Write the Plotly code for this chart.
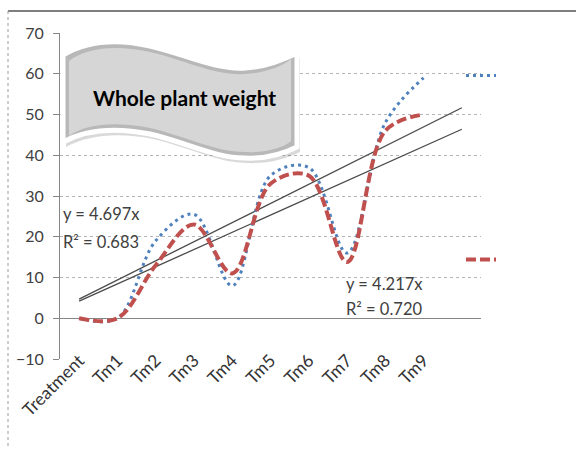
import plotly.graph_objects as go

# ---------------- data ----------------
categories = ["Treatment", "Tm1", "Tm2", "Tm3", "Tm4", "Tm5", "Tm6", "Tm7", "Tm8", "Tm9", ""]
series_blue = [0, 0, 19, 25.5, 8, 35, 37, 16, 48, 59]
series_red = [0, 0, 13, 23, 11, 33, 35, 13.8, 46, 50]
trend_slopes = [4.697, 4.217]          # trendlines with intercept set to 0
trend_r2 = [0.683, 0.720]
title_text = "Whole plant weight"
y_ticks = [-10, 0, 10, 20, 30, 40, 50, 60, 70]

# ---------------- layout geometry ----------------
W, H = 576, 449
ML, MR, MT, MB = 60, 95, 33, 90
PW, PH = W - ML - MR, H - MT - MB


def px2paper(px, py):
    return (px - ML) / PW, 1 - (py - MT) / PH


x_cat = list(range(1, len(categories) + 1))
x_data = x_cat[: len(series_blue)]
x_trend = [x_cat[0], x_cat[-1]]

FONT = "Lato, 'Open Sans', sans-serif"
TXT = "#404040"
AX = "#868686"

fig = go.Figure()

# trendlines
for s in trend_slopes:
    fig.add_trace(go.Scatter(
        x=x_trend, y=[s * v for v in x_trend], mode="lines",
        line=dict(color="#4a4a4a", width=1.3), showlegend=False, hoverinfo="skip"))

fig.add_trace(go.Scatter(
    x=x_data, y=series_blue, mode="lines", name="",
    line=dict(color="#4f81bd", width=3, dash="3px,4px", shape="spline", smoothing=1),
    legend="legend"))
fig.add_trace(go.Scatter(
    x=x_data, y=series_red, mode="lines", name="",
    line=dict(color="#c0504d", width=4, dash="10px,4px", shape="spline", smoothing=1),
    legend="legend2"))

# trendline equations
eq_pos = [((0.53, 25.5), (0.53, 18.6)), ((7.92, 8.3), (7.92, 2.2))]
for s, r2, (p1, p2) in zip(trend_slopes, trend_r2, eq_pos):
    fig.add_annotation(x=p1[0], y=p1[1], text=f"y = {s:.3f}x", showarrow=False,
                       xanchor="left", font=dict(family=FONT, size=16.5, color=TXT))
    fig.add_annotation(x=p2[0], y=p2[1], text=f"R² = {r2:.3f}", showarrow=False,
                       xanchor="left", font=dict(family=FONT, size=16.5, color=TXT))


# ---------------- banner (wavy) ----------------
def banner_path(dx=0.0, dy=0.0, inset=0.0):
    i = inset
    L, R = 63 + i, 297 - i
    top = [(L, 55 + i),
           (85, 42 + i), (115, 38 + i), (150, 46 + i),
           (185, 54 + i), (215, 70 + i), (245, 68 + i),
           (265, 67 + i), (283, 60 + i), (R, 53 + i)]
    bot = [(R, 147 - i),
           (283, 154 - i), (265, 159 - i), (245, 158 - i),
           (215, 158 - i), (185, 142 - i), (150, 134 - i),
           (115, 127 - i), (85, 130 - i), (L, 142 - i)]

    def P(p):
        x, y = px2paper(p[0] + dx, p[1] + dy)
        return f"{x:.5f},{y:.5f}"

    d = "M" + P(top[0])
    for k in range(1, 10, 3):
        d += " C" + P(top[k]) + " " + P(top[k + 1]) + " " + P(top[k + 2])
    d += " L" + P(bot[0])
    for k in range(1, 10, 3):
        d += " C" + P(bot[k]) + " " + P(bot[k + 1]) + " " + P(bot[k + 2])
    return d + " Z"


fig.add_shape(type="path", xref="paper", yref="paper", path=banner_path(3, 5),
              fillcolor="rgba(0,0,0,0.15)", line=dict(width=0))
fig.add_shape(type="path", xref="paper", yref="paper", path=banner_path(),
              fillcolor="#b8b8b8", line=dict(color="white", width=5))
fig.add_shape(type="path", xref="paper", yref="paper", path=banner_path(inset=6),
              fillcolor="#d6d6d6", line=dict(width=0))
tx, ty = px2paper(184, 97)
fig.add_annotation(x=tx, y=ty, xref="paper", yref="paper", text=f"<b>{title_text}</b>",
                   xanchor="center", yanchor="middle", showarrow=False,
                   font=dict(family=FONT, size=21, color="black", weight=900))

# chart outer border
x0, y0 = px2paper(8, 11)
x1, y1 = px2paper(W + 5, H + 5)
fig.add_shape(type="line", xref="paper", yref="paper", x0=x0, y0=y0, x1=x1, y1=y0,
              line=dict(color="#7f7f7f", width=2))
fig.add_shape(type="line", xref="paper", yref="paper", x0=x0, y0=y0, x1=x0, y1=y1,
              line=dict(color="#9a9a9a", width=1, dash="dot"))

ymin, ymax = y_ticks[0], y_ticks[-1]
zero_pos = (0 - ymin) / (ymax - ymin)

fig.update_layout(
    width=W, height=H,
    margin=dict(l=ML, r=MR, t=MT, b=MB),
    paper_bgcolor="white", plot_bgcolor="white",
    font=dict(family=FONT, color=TXT),
    xaxis=dict(range=[0.5, len(categories) + 0.5], tickmode="array", tickvals=x_cat,
               ticktext=categories, tickangle=-45, ticks="", showgrid=False,
               zeroline=False, showline=False, tickfont=dict(size=17.5, color="#333333"),
               ticklabelstandoff=-13),
    xaxis2=dict(overlaying="x", anchor="free", position=zero_pos, side="bottom",
                range=[0.5, len(categories) + 0.5], tickmode="array",
                tickvals=[c + 0.5 for c in x_cat], ticks="outside", ticklen=7,
                tickcolor=AX, showticklabels=False, showgrid=False, zeroline=False,
                showline=False),
    yaxis=dict(range=[ymin, ymax], tickmode="array", tickvals=y_ticks,
               showgrid=True, gridcolor="#b4b4b4", griddash="dot", gridwidth=1,
               zeroline=True, zerolinecolor=AX, zerolinewidth=1,
               showline=True, linecolor=AX, linewidth=1,
               ticks="outside", ticklen=6, tickcolor=AX,
               tickfont=dict(size=16, color=TXT), ticklabelstandoff=6),
    legend=dict(x=px2paper(461, 0)[0], y=px2paper(0, 76)[1], xanchor="left",
                yanchor="middle", bgcolor="rgba(0,0,0,0)", font=dict(size=14)),
    legend2=dict(x=px2paper(461, 0)[0], y=px2paper(0, 260)[1], xanchor="left",
                 yanchor="middle", bgcolor="rgba(0,0,0,0)", font=dict(size=14)),
)

fig.write_html("out.html", config={"displayModeBar": False},
               post_script="document.body.style.margin='0';")
